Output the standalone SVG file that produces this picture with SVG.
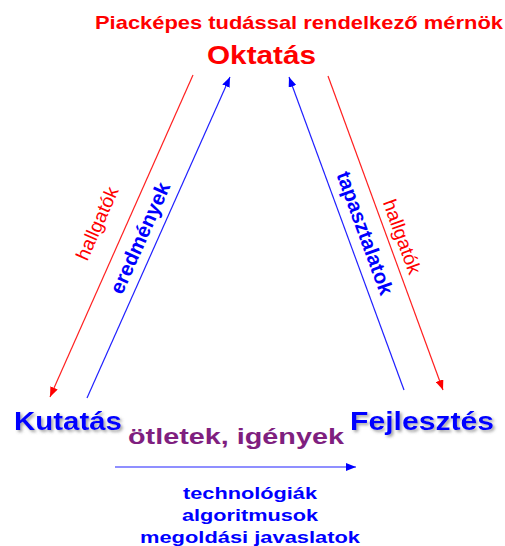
<svg xmlns="http://www.w3.org/2000/svg" width="505" height="546" viewBox="0 0 505 546">
<style>
text{font-family:"Liberation Sans",Arial,sans-serif;font-weight:bold;text-anchor:middle}
.red{fill:#ff0000}
.blue{fill:#0000ff}
.purple{fill:#7f1f7f}
.lr{stroke:#ff2020;stroke-width:1.2;fill:none}
.lb{stroke:#2020ff;stroke-width:1.2;fill:none}
.thin{font-weight:normal}
</style>
<defs>
<marker id="ar" viewBox="0 0 10 8" refX="10" refY="4" markerWidth="10" markerHeight="8" markerUnits="userSpaceOnUse" orient="auto"><path d="M0,0L10,4L0,8z" fill="#ff0000"/></marker>
<marker id="ab" viewBox="0 0 10 8" refX="10" refY="4" markerWidth="10" markerHeight="8" markerUnits="userSpaceOnUse" orient="auto"><path d="M0,0L10,4L0,8z" fill="#0000ff"/></marker>
<filter id="sh" x="-10%" y="-30%" width="130%" height="170%"><feDropShadow dx="2" dy="2" stdDeviation="1.5" flood-color="#666" flood-opacity="0.6"/></filter>
</defs>
<g id="connectors">
<line class="lr" x1="193" y1="75" x2="50" y2="397" marker-end="url(#ar)"/>
<line class="lb" x1="87" y1="398" x2="230" y2="77" marker-end="url(#ab)"/>
<line class="lb" x1="404" y1="390" x2="289" y2="77" marker-end="url(#ab)"/>
<line class="lr" x1="328" y1="76" x2="443" y2="390" marker-end="url(#ar)"/>
<line class="lb" x1="115" y1="467" x2="356" y2="467" marker-end="url(#ab)"/>
<text class="red thin" font-size="19" transform="translate(103,226) rotate(-66)" textLength="78" lengthAdjust="spacingAndGlyphs">hallgatók</text>
<text class="blue" font-size="20.5" transform="translate(146.4,240.8) rotate(-66)">eredmények</text>
<text class="blue" font-size="20.5" transform="translate(358.4,235.4) rotate(70)">tapasztalatok</text>
<text class="red thin" font-size="19" transform="translate(396,239) rotate(70)" textLength="78" lengthAdjust="spacingAndGlyphs">hallgatók</text>
<text class="purple" x="236" y="444" font-size="22" textLength="216" lengthAdjust="spacingAndGlyphs">ötletek, igények</text>
<text class="blue" x="250" y="499" font-size="17" textLength="134" lengthAdjust="spacingAndGlyphs">technológiák</text>
<text class="blue" x="250" y="521" font-size="17" textLength="136" lengthAdjust="spacingAndGlyphs">algoritmusok</text>
<text class="blue" x="250" y="543" font-size="17" textLength="220" lengthAdjust="spacingAndGlyphs">megoldási javaslatok</text>
</g>
<g id="title">
<text class="red" x="299" y="29" font-size="19" textLength="408" lengthAdjust="spacingAndGlyphs">Piacképes tudással rendelkező mérnök</text>
</g>
<g id="oktatas">
<text class="red" x="261.5" y="64" font-size="26" textLength="109" lengthAdjust="spacingAndGlyphs">Oktatás</text>
</g>
<g id="kutatas">
<text class="blue" x="68" y="430" font-size="25" textLength="108" lengthAdjust="spacingAndGlyphs" filter="url(#sh)">Kutatás</text>
</g>
<g id="fejlesztes">
<text class="blue" x="422" y="430" font-size="25" textLength="144" lengthAdjust="spacingAndGlyphs" filter="url(#sh)">Fejlesztés</text>
</g>
</svg>
